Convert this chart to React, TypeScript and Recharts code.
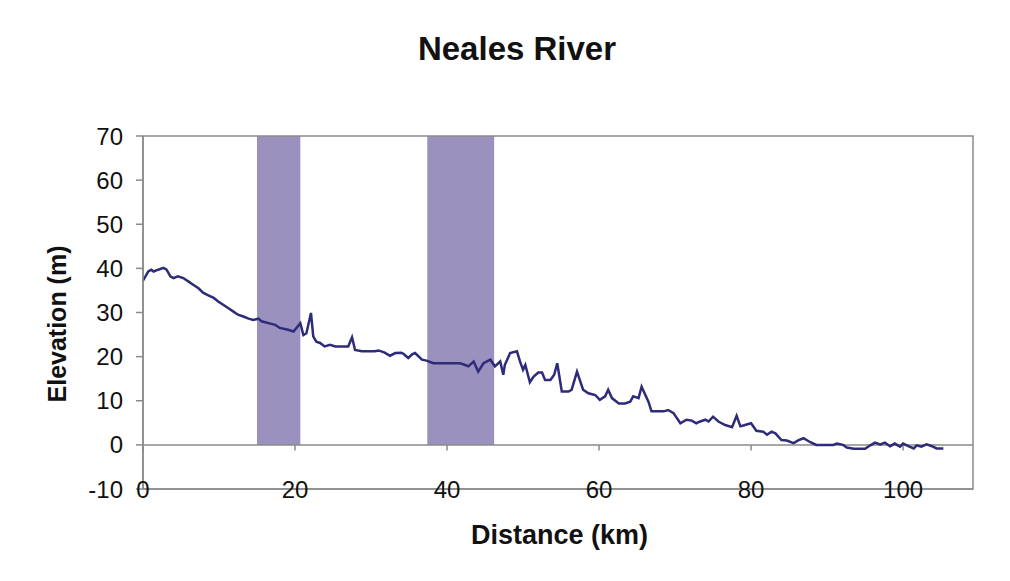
import { LineChart, Line, XAxis, YAxis, ReferenceArea, ReferenceLine } from "recharts";

const distanceKm = [
  0, 0.7, 1.1, 1.4, 2.0, 2.7, 3.1, 3.6, 4.0, 4.6, 5.3, 6.0, 6.6, 7.3, 7.9, 8.6, 9.3, 9.9, 10.6,
  11.2, 11.9, 12.5, 13.2, 13.9, 14.5, 15.2, 15.6, 16.5, 17.4, 18.0, 19.1, 19.8, 20.7, 21.1, 21.5,
  22.1, 22.4, 22.8, 23.3, 23.9, 24.6, 25.3, 26.1, 27.0, 27.5, 27.9, 28.8, 30.5, 31.0, 31.8, 32.5,
  33.2, 34.0, 34.3, 34.9, 35.4, 35.8, 36.7, 37.3, 38.2, 41.7, 42.4, 42.8, 43.5, 44.1, 44.8, 45.7,
  46.3, 47.0, 47.4, 47.6, 48.3, 49.2, 49.6, 50.0, 50.3, 50.9, 51.4, 52.0, 52.5, 52.9, 53.6, 54.1,
  54.5, 55.1, 56.0, 56.4, 57.1, 57.9, 58.6, 59.5, 60.1, 60.8, 61.2, 61.7, 62.6, 63.4, 64.1, 64.5,
  65.2, 65.6, 66.5, 66.9, 68.5, 69.1, 69.8, 70.7, 71.5, 72.2, 72.8, 73.3, 74.0, 74.4, 75.0, 75.7,
  76.6, 77.5, 78.1, 78.6, 79.2, 80.0, 80.7, 81.6, 82.1, 82.7, 83.2, 84.0, 84.7, 85.6, 86.2, 86.9,
  87.8, 88.6, 90.8, 91.3, 92.1, 92.6, 93.5, 95.0, 95.7, 96.3, 97.0, 97.6, 98.3, 98.9, 99.6, 100.0,
  100.7, 101.4, 101.8, 102.4, 103.1, 103.8, 104.4, 105.3,
];

const elevationM = [
  37.2, 39.3, 39.7, 39.3, 39.7, 40.1, 39.7, 38.2, 37.8, 38.2, 37.8, 37.0, 36.3, 35.5, 34.5, 33.9, 33.3, 32.5, 31.7,
  31.0, 30.2, 29.5, 29.1, 28.6, 28.3, 28.6, 28.0, 27.6, 27.2, 26.5, 26.1, 25.7, 27.6, 24.9, 25.3,
  29.9, 24.6, 23.4, 23.1, 22.3, 22.7, 22.3, 22.3, 22.3, 24.4, 21.5, 21.2, 21.2, 21.4, 20.9, 20.2,
  20.8, 20.9, 20.6, 19.7, 20.5, 20.8, 19.3, 19.1, 18.5, 18.5, 18.1, 17.8, 18.9, 16.6, 18.5, 19.3,
  17.8, 18.9, 15.9, 18.1, 20.8, 21.2, 18.9, 17.0, 18.1, 14.2, 15.5, 16.4, 16.4, 14.7, 14.7, 15.9,
  18.5, 12.1, 12.1, 12.5, 16.6, 12.5, 11.7, 11.3, 10.2, 11.0, 12.5, 10.6, 9.4, 9.4, 9.8, 11.0,
  10.6, 13.2, 9.8, 7.6, 7.6, 7.9, 7.2, 4.9, 5.7, 5.5, 4.9, 5.3, 5.7, 5.3, 6.4, 5.3,
  4.5, 4.0, 6.6, 4.2, 4.5, 4.9, 3.2, 3.0, 2.3, 3.0, 2.6, 1.1, 1.0, 0.4, 1.0, 1.5,
  0.6, 0.0, 0.0, 0.3, 0.0, -0.6, -0.9, -0.9, -0.1, 0.5, 0.1, 0.5, -0.3, 0.3, -0.4, 0.3,
  -0.3, -0.8, -0.1, -0.4, 0.1, -0.3, -0.8, -0.8,
];

// shaded reaches along the river (km)
const bandStart = [15.0, 37.4];
const bandEnd = [20.7, 46.2];

const xTicks = [0, 20, 40, 60, 80, 100];
const yTicks = [-10, 0, 10, 20, 30, 40, 50, 60, 70];

const data = distanceKm.map((d, i) => ({ distance: d, elevation: elevationM[i] }));

const X_MAX = 109.2;
const axisGray = "#8a8a8a";
const font = "'Liberation Sans', Arial, sans-serif";

const renderXTick = ({ x, y, payload }: any) => (
  <text x={x} y={y} textAnchor="middle" dominantBaseline="central" fontSize={24} fill="#111" fontFamily={font}>
    {payload.value}
  </text>
);

export default function App() {
  return (
    <div style={{ position: "relative", width: 1010, height: 581, margin: -8, background: "#fff", overflow: "hidden" }}>
      <div style={{ position: "absolute", left: 7, top: 0, width: 1, height: 581, background: "#9a9a9a" }} />
      <div
        style={{
          position: "absolute", left: 0, top: 30, width: 1034, textAlign: "center",
          fontFamily: font, fontWeight: "bold", fontSize: 33, color: "#111",
        }}
      >
        Neales River
      </div>
      <div
        style={{
          position: "absolute", left: 471, top: 520, fontFamily: font, fontWeight: "bold", fontSize: 27, color: "#111",
        }}
      >
        Distance (km)
      </div>
      <div
        style={{
          position: "absolute", left: 57, top: 324, transform: "translate(-50%, -50%) rotate(-90deg)",
          whiteSpace: "nowrap", fontFamily: font, fontWeight: "bold", fontSize: 25, color: "#111",
        }}
      >
        Elevation (m)
      </div>
      <div style={{ position: "absolute", left: 0, top: 0 }}>
        <LineChart width={1010} height={581} data={data} margin={{ top: 136, right: 37, bottom: 52, left: 0 }}>
          {bandStart.map((s, i) => (
            <ReferenceArea key={i} x1={s} x2={bandEnd[i]} y1={0} y2={70} fill="#9a91bf" fillOpacity={1} stroke="none" />
          ))}
          <ReferenceArea x1={0} x2={X_MAX} y1={-10} y2={70} fill="none" stroke={axisGray} strokeWidth={1.5} />
          <ReferenceLine y={0} stroke={axisGray} strokeWidth={1.5} />
          {xTicks.map((t) => (
            <ReferenceLine key={t} segment={[{ x: t, y: 0 }, { x: t, y: -1.3 }]} stroke={axisGray} strokeWidth={1.5} />
          ))}
          <XAxis
            type="number"
            dataKey="distance"
            domain={[0, X_MAX]}
            ticks={xTicks}
            height={40}
            tickSize={0}
            tickMargin={0}
            tickLine={false}
            axisLine={{ stroke: axisGray, strokeWidth: 1.5 }}
            tick={renderXTick}
            interval={0}
            allowDataOverflow
          />
          <YAxis
            type="number"
            domain={[-10, 70]}
            ticks={yTicks}
            width={143}
            tickSize={7}
            tickMargin={13}
            axisLine={{ stroke: axisGray, strokeWidth: 1.5 }}
            tickLine={{ stroke: axisGray, strokeWidth: 1.5 }}
            tick={{ fontSize: 24, fill: "#111", fontFamily: font }}
          />
          <Line
            type="linear"
            dataKey="elevation"
            stroke="#2e2b7a"
            strokeWidth={2.5}
            dot={false}
            isAnimationActive={false}
          />
        </LineChart>
      </div>
    </div>
  );
}
